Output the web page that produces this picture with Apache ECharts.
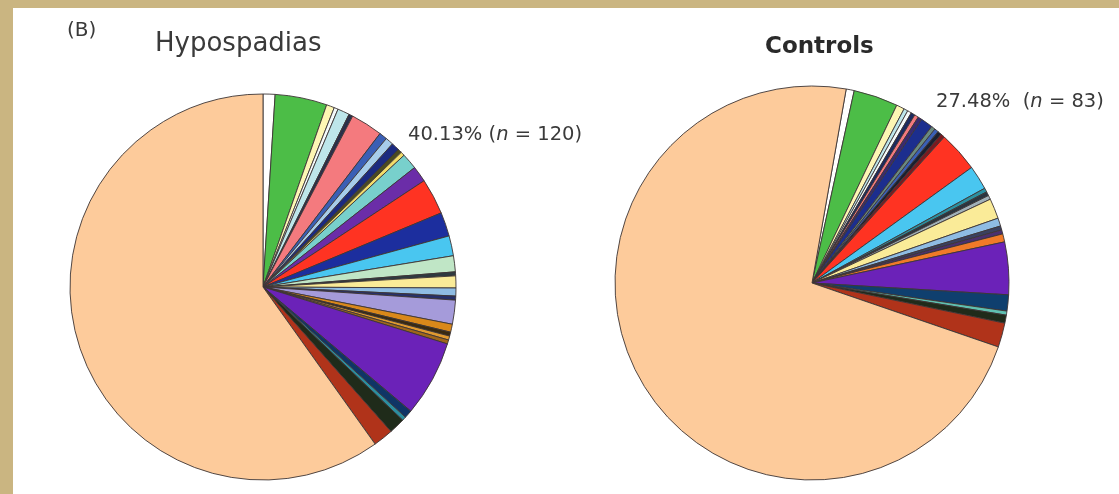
<!DOCTYPE html>
<html>
<head>
<meta charset="utf-8">
<title>Hypospadias vs Controls</title>
<script src="https://cdn.jsdelivr.net/npm/echarts@6/dist/echarts.min.js"></script>
<style>
  html, body { margin: 0; padding: 0; background: #ffffff; }
  #chart { width: 1119px; height: 494px; }
</style>
</head>
<body>
<div id="chart"></div>
<script>
// ---- data: counts per category, clockwise from the first slice ----
const hypoOtherCounts = [3, 13, 2, 1, 3, 1, 8, 2, 2, 2, 1, 1, 4, 4, 9, 6, 5, 4, 1, 3, 2, 1, 6, 2, 1, 1, 1, 19, 2, 1, 4, 5];
const hypoMainCount = 179;

const ctrlOtherCounts = [2, 11, 2, 1, 1, 1, 1, 1, 3, 1, 1, 1, 1, 10, 6, 1, 1, 1, 5, 2, 1, 1, 2, 13, 4, 1, 2, 6];
const ctrlMainCount = 219;

const groupTitles = ['Hypospadias', 'Controls'];
const panelTag = '(B)';

// ---- styles ----
const mainColor = '#FDCB9B';
const hypoColors = ['#FFFFFF', '#4CBD47', '#FDF6B4', '#F4FAFA', '#BDE6EA', '#2A2F4A', '#F47A7E', '#3A5FB5',
  '#A7CDEA', '#1B2A80', '#4A4A20', '#F2DC6A', '#78D0CC', '#6B2DA8', '#FF3322', '#1C2E9E', '#49C6F0',
  '#C0E6C6', '#2E3A40', '#FAEB98', '#8FBCE3', '#27306A', '#A59BDA', '#D9881A', '#3A2A10', '#E09A30',
  '#A0661A', '#6B22B8', '#0F3566', '#2B8FA0', '#1F2B1A', '#B0331A'];
const ctrlColors = ['#FFFFFF', '#4CBD47', '#FDF6B4', '#BDE6EA', '#F4FAFA', '#1B2A60', '#F47A7E', '#3A2A70',
  '#1C2E8E', '#6A8A80', '#3A5FB5', '#1A2030', '#7A1A20', '#FF3322', '#49C6F0', '#2B8FA0', '#2A3540',
  '#A0B0B8', '#FAEB98', '#8FBCE3', '#3A4060', '#4A3070', '#F07A28', '#6B22B8', '#0F3F6E', '#5FC0B0',
  '#1F2B1A', '#B0331A'];

const FONT = '"DejaVu Sans", "Liberation Sans", sans-serif';
const TEXT = '#3a3a3a';

function sum(a) { return a.reduce((s, v) => s + v, 0); }

function sliceData(others, main, colors) {
  const d = others.map((v, i) => ({ name: 'c' + (i + 1), value: v, itemStyle: { color: colors[i] } }));
  d.push({ name: 'main', value: main, itemStyle: { color: mainColor } });
  return d;
}

function pctLabel(part, total, gap) {
  const p = (part / total * 100).toFixed(2);
  return '{a|' + p + '%' + gap + '(}{i|n}{a| = ' + part + ')}';
}

function richStyle(size) {
  return {
    a: { fontFamily: FONT, fontSize: size, fill: TEXT, color: TEXT },
    i: { fontFamily: FONT, fontSize: size, fontStyle: 'italic', fill: TEXT, color: TEXT }
  };
}

const hypoOther = sum(hypoOtherCounts);
const hypoTotal = hypoOther + hypoMainCount;
const ctrlOther = sum(ctrlOtherCounts);
const ctrlTotal = ctrlOther + ctrlMainCount;

function pieSeries(center, radius, startAngle, data) {
  return {
    type: 'pie',
    center: center,
    radius: radius,
    startAngle: startAngle,
    clockwise: true,
    silent: true,
    avoidLabelOverlap: false,
    label: { show: false },
    labelLine: { show: false },
    emphasis: { disabled: true },
    itemStyle: { borderColor: '#3d3636', borderWidth: 0.9 },
    data: data
  };
}

const chart = echarts.init(document.getElementById('chart'), null, { renderer: 'canvas' });

chart.setOption({
  animation: false,
  backgroundColor: '#CAB581',
  graphic: [
    { type: 'rect', z: -10, shape: { x: 13, y: 8, width: 1106, height: 486 }, style: { fill: '#FFFFFF' } },
    { type: 'text', x: 67, y: 31, style: { text: panelTag, fontFamily: FONT, fontSize: 20, fill: TEXT, verticalAlign: 'middle' } },
    { type: 'text', x: 155, y: 44, style: { text: groupTitles[0], fontFamily: FONT, fontSize: 26, fill: TEXT, verticalAlign: 'middle' } },
    { type: 'text', x: 765, y: 47, style: { text: groupTitles[1], fontFamily: FONT, fontSize: 23, fontWeight: 'bold', fill: '#2a2a2a', verticalAlign: 'middle' } },
    { type: 'text', x: 408, y: 135, style: { text: pctLabel(hypoOther, hypoTotal, ' '), rich: richStyle(19.5), verticalAlign: 'middle' } },
    { type: 'text', x: 108, y: 355, style: { text: pctLabel(hypoMainCount, hypoTotal, ' '), rich: richStyle(21.5), verticalAlign: 'middle' } },
    { type: 'text', x: 936, y: 102, style: { text: pctLabel(ctrlOther, ctrlTotal, '  '), rich: richStyle(19.5), verticalAlign: 'middle' } },
    { type: 'text', x: 690, y: 355, style: { text: pctLabel(ctrlMainCount, ctrlTotal, ' '), rich: richStyle(21), verticalAlign: 'middle' } }
  ],
  series: [
    pieSeries([263, 287], 193, 90, sliceData(hypoOtherCounts, hypoMainCount, hypoColors)),
    pieSeries([812, 283], 197, 80, sliceData(ctrlOtherCounts, ctrlMainCount, ctrlColors))
  ]
});
</script>
</body>
</html>
